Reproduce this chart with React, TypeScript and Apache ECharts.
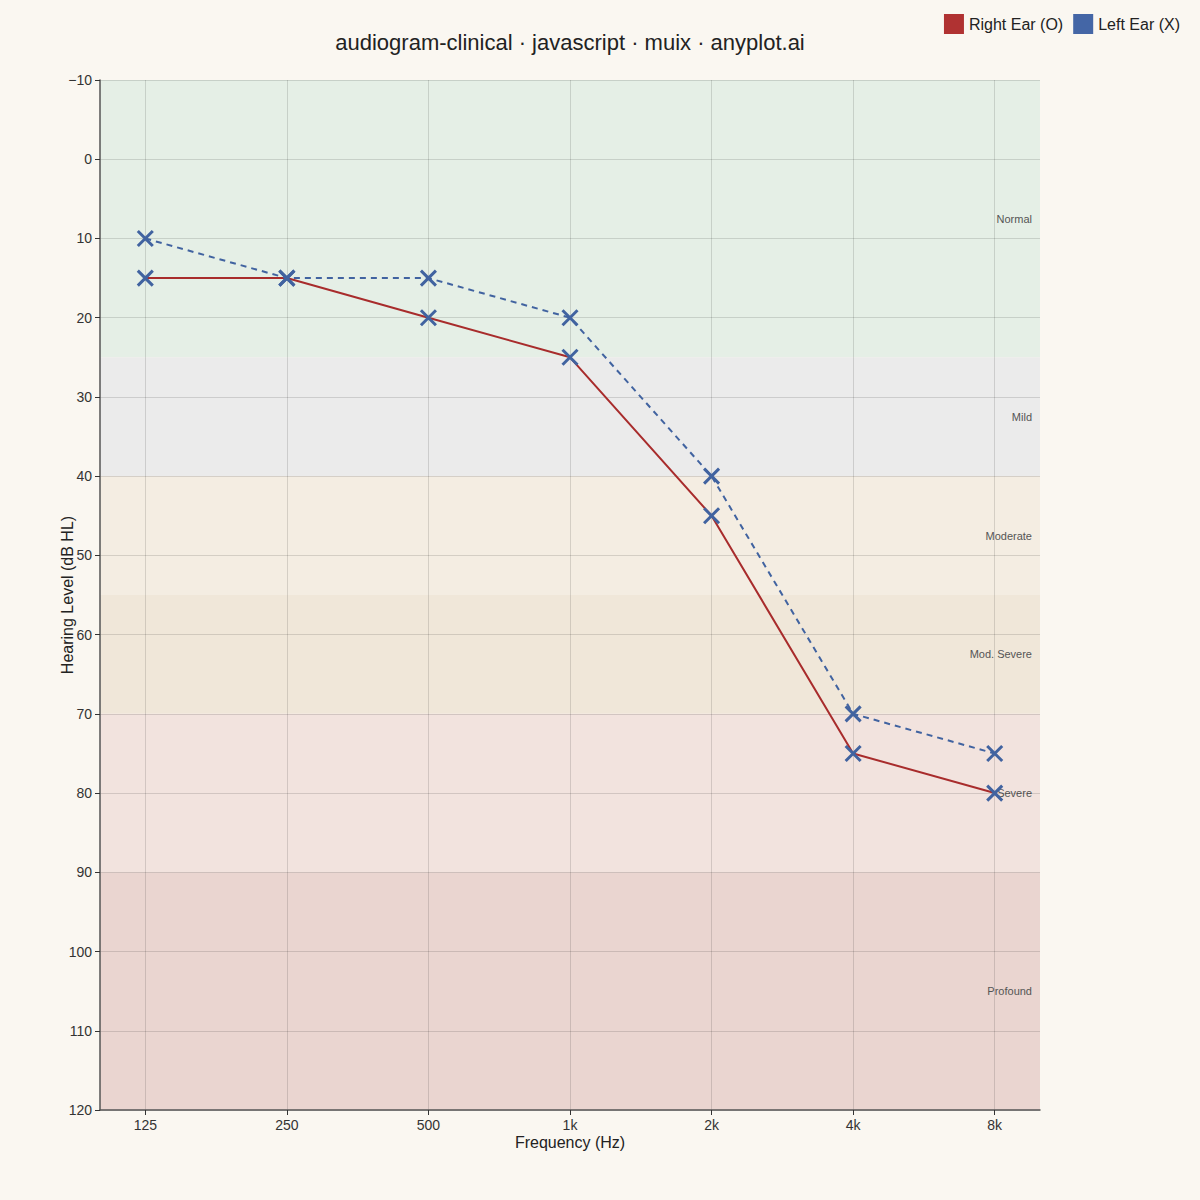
import React, { useEffect, useRef } from 'react'
import * as echarts from 'echarts'

const freqLabels = ['125', '250', '500', '1k', '2k', '4k', '8k']
const rightEar = [15, 15, 20, 25, 45, 75, 80]
const leftEar = [10, 15, 15, 20, 40, 70, 75]
const yTicks = [-10, 0, 10, 20, 30, 40, 50, 60, 70, 80, 90, 100, 110, 120]

const bands = [
  { name: 'Normal', from: -10, to: 25, color: '#e5efe6' },
  { name: 'Mild', from: 25, to: 40, color: '#ebebeb' },
  { name: 'Moderate', from: 40, to: 55, color: '#f4ede2' },
  { name: 'Mod. Severe', from: 55, to: 70, color: '#f0e7d9' },
  { name: 'Severe', from: 70, to: 90, color: '#f2e3de' },
  { name: 'Profound', from: 90, to: 120, color: '#ead5d0' },
]

const RED = '#a82c2c'
const BLUE = '#4163a0'
const X_SYMBOL = 'path://M0,0 L10,10 M10,0 L0,10'

export default function App() {
  const ref = useRef<HTMLDivElement | null>(null)

  useEffect(() => {
    document.body.style.margin = '0'
    if (!ref.current) return
    const chart = echarts.init(ref.current, null, { renderer: 'svg' })
    const idx = freqLabels.map((_, i) => i)
    const marker = {
      symbol: X_SYMBOL,
      symbolSize: 15,
      itemStyle: { color: 'none', borderColor: BLUE, borderWidth: 3 },
    }
    chart.setOption({
      animation: false,
      backgroundColor: '#faf7f1',
      textStyle: { fontFamily: 'Liberation Sans, Arial, sans-serif' },
      title: {
        text: 'audiogram-clinical · javascript · muix · anyplot.ai',
        left: 565,
        top: 26,
        textAlign: 'center',
        textStyle: { fontSize: 22, fontWeight: 'normal', color: '#222' },
      },
      legend: {
        top: 9,
        right: 15,
        itemWidth: 20,
        itemHeight: 20,
        itemGap: 10,
        icon: 'rect',
        textStyle: { fontSize: 16, color: '#222' },
        data: [
          { name: 'Right Ear (O)', itemStyle: { color: '#b03232', borderWidth: 0 } },
          { name: 'Left Ear (X)', itemStyle: { color: '#4466a6', borderWidth: 0 } },
        ],
      },
      grid: { left: 100, right: 160, top: 80, bottom: 90 },
      xAxis: {
        type: 'value',
        min: -0.32,
        max: 6.32,
        z: 2,
        name: 'Frequency (Hz)',
        nameLocation: 'middle',
        nameGap: 24,
        nameMoveOverlap: false,
        nameTextStyle: { fontSize: 16, color: '#222' },
        axisLine: { show: true, onZero: false, lineStyle: { color: '#555', width: 1.5 } },
        axisTick: { show: true, customValues: idx, lineStyle: { color: '#333' } },
        axisLabel: {
          customValues: idx,
          fontSize: 14,
          color: '#333',
          formatter: (v: number) => freqLabels[Math.round(v)] ?? '',
        },
        splitLine: { show: true, lineStyle: { color: 'rgba(0,0,0,0.13)' } },
      },
      yAxis: {
        type: 'value',
        inverse: true,
        min: -10,
        max: 120,
        interval: 10,
        z: 2,
        name: 'Hearing Level (dB HL)',
        nameLocation: 'middle',
        nameGap: 25,
        nameMoveOverlap: false,
        nameTextStyle: { fontSize: 16, color: '#222' },
        axisLine: { show: true, onZero: false, lineStyle: { color: '#555', width: 1.5 } },
        axisTick: { show: true, lineStyle: { color: '#333' } },
        axisLabel: {
          fontSize: 14,
          color: '#333',
          formatter: (v: number) => (yTicks.includes(v) ? String(v).replace('-', '\u2212') : ''),
        },
        splitLine: { show: true, lineStyle: { color: 'rgba(0,0,0,0.13)' } },
      },
      series: [
        {
          name: 'bands',
          type: 'line',
          data: [],
          z: 1,
          silent: true,
          markArea: {
            silent: true,
            z: 1,
            data: bands.map(b => [
              {
                yAxis: b.from,
                name: b.name,
                itemStyle: { color: b.color },
                label: {
                  show: true,
                  position: 'insideRight',
                  fontSize: 11,
                  color: '#555',
                  distance: 8,
                },
              },
              { yAxis: b.to },
            ]),
          },
        },
        {
          name: 'Right Ear (O)',
          type: 'line',
          data: rightEar.map((v, i) => [i, v]),
          ...marker,
          lineStyle: { color: RED, width: 2 },
          z: 3,
        },
        {
          name: 'Left Ear (X)',
          type: 'line',
          data: leftEar.map((v, i) => [i, v]),
          ...marker,
          lineStyle: { color: BLUE, width: 2, type: [6, 5] },
          z: 4,
        },
      ],
    } as any)
    return () => chart.dispose()
  }, [])

  return <div ref={ref} style={{ width: 1200, height: 1200 }} />
}
